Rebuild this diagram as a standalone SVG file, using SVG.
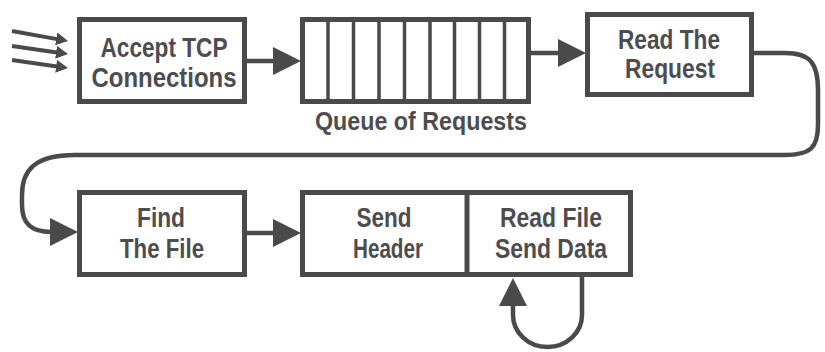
<svg xmlns="http://www.w3.org/2000/svg" width="825" height="352" viewBox="0 0 825 352">
<defs>
<style>
.box{fill:#fff;stroke:#4a4a4c;stroke-width:5}
.div{stroke:#4a4a4c;stroke-width:3.5}
.con{fill:none;stroke:#4a4a4c;stroke-width:4.5}
.thin{fill:none;stroke:#4a4a4c;stroke-width:4}
.t{font-family:"Liberation Sans",Arial,sans-serif;font-weight:bold;font-size:28px;fill:#4d4d4f;text-anchor:middle}
.q{font-size:25px}
.r{font-size:27px}
</style>
<marker id="big" markerUnits="userSpaceOnUse" viewBox="0 0 28 28" markerWidth="28" markerHeight="28" refX="1" refY="14" orient="auto">
<path d="M0,0 L28,14 L0,28 Z" fill="#4a4a4c"/>
</marker>
<marker id="small" markerUnits="userSpaceOnUse" viewBox="0 0 12 13" markerWidth="12" markerHeight="13" refX="1" refY="6.5" orient="auto">
<path d="M0,0 L12,6.5 L0,13 Z" fill="#4a4a4c"/>
</marker>
</defs>
<rect width="825" height="352" fill="#fff"/>

<g id="connectors">
<line class="thin" x1="12" y1="31" x2="57.2" y2="39.1" marker-end="url(#small)"/>
<line class="thin" x1="12" y1="46" x2="57.1" y2="52.4" marker-end="url(#small)"/>
<line class="thin" x1="12" y1="60" x2="57.1" y2="66.4" marker-end="url(#small)"/>
<path class="con" d="M247 61 H274" marker-end="url(#big)"/>
<path class="con" d="M531 53 H559" marker-end="url(#big)"/>
<path class="con" d="M754 53 H785 C810 53 818 63 818 90 V125 C818 148 810 155 785 155 H75 C35 155 22 170 22 195 V205 C22 225 33 232 51 232" marker-end="url(#big)"/>
<path class="con" d="M247 233 H274" marker-end="url(#big)"/>
<path class="con" d="M582 277 V315 A34.5 32 0 0 1 513 315 V305" marker-end="url(#big)"/>
</g>

<g id="accept">
<rect class="box" x="79.5" y="19.5" width="165" height="82"/>
<text class="t" x="164" y="57" textLength="127" lengthAdjust="spacingAndGlyphs">Accept TCP</text>
<text class="t" x="164" y="87" textLength="145" lengthAdjust="spacingAndGlyphs">Connections</text>
</g>

<g id="queue">
<rect class="box" x="302.5" y="19.5" width="226" height="82"/>
<line class="div" x1="328" y1="20" x2="328" y2="101"/>
<line class="div" x1="353.5" y1="20" x2="353.5" y2="101"/>
<line class="div" x1="379" y1="20" x2="379" y2="101"/>
<line class="div" x1="404.5" y1="20" x2="404.5" y2="101"/>
<line class="div" x1="430" y1="20" x2="430" y2="101"/>
<line class="div" x1="454.5" y1="20" x2="454.5" y2="101"/>
<line class="div" x1="479.5" y1="20" x2="479.5" y2="101"/>
<line class="div" x1="504.5" y1="20" x2="504.5" y2="101"/>
<text class="t q" x="421" y="130" textLength="212" lengthAdjust="spacingAndGlyphs">Queue of Requests</text>
</g>

<g id="read-request">
<rect class="box" x="587.5" y="14.5" width="164" height="80"/>
<text class="t r" x="669" y="48.5" textLength="102" lengthAdjust="spacingAndGlyphs">Read The</text>
<text class="t r" x="670" y="77.5" textLength="90" lengthAdjust="spacingAndGlyphs">Request</text>
</g>

<g id="find-file">
<rect class="box" x="79.5" y="192.5" width="165" height="82"/>
<text class="t" x="161" y="227" textLength="48" lengthAdjust="spacingAndGlyphs">Find</text>
<text class="t" x="162" y="258" textLength="84" lengthAdjust="spacingAndGlyphs">The File</text>
</g>

<g id="send">
<rect class="box" x="302.5" y="192.5" width="328" height="82"/>
<line class="box" x1="467" y1="193" x2="467" y2="274"/>
<text class="t" x="384" y="227" textLength="55" lengthAdjust="spacingAndGlyphs">Send</text>
<text class="t" x="388" y="258" textLength="70" lengthAdjust="spacingAndGlyphs">Header</text>
<text class="t" x="551" y="227" textLength="102" lengthAdjust="spacingAndGlyphs">Read File</text>
<text class="t" x="551" y="258" textLength="112" lengthAdjust="spacingAndGlyphs">Send Data</text>
</g>
</svg>
